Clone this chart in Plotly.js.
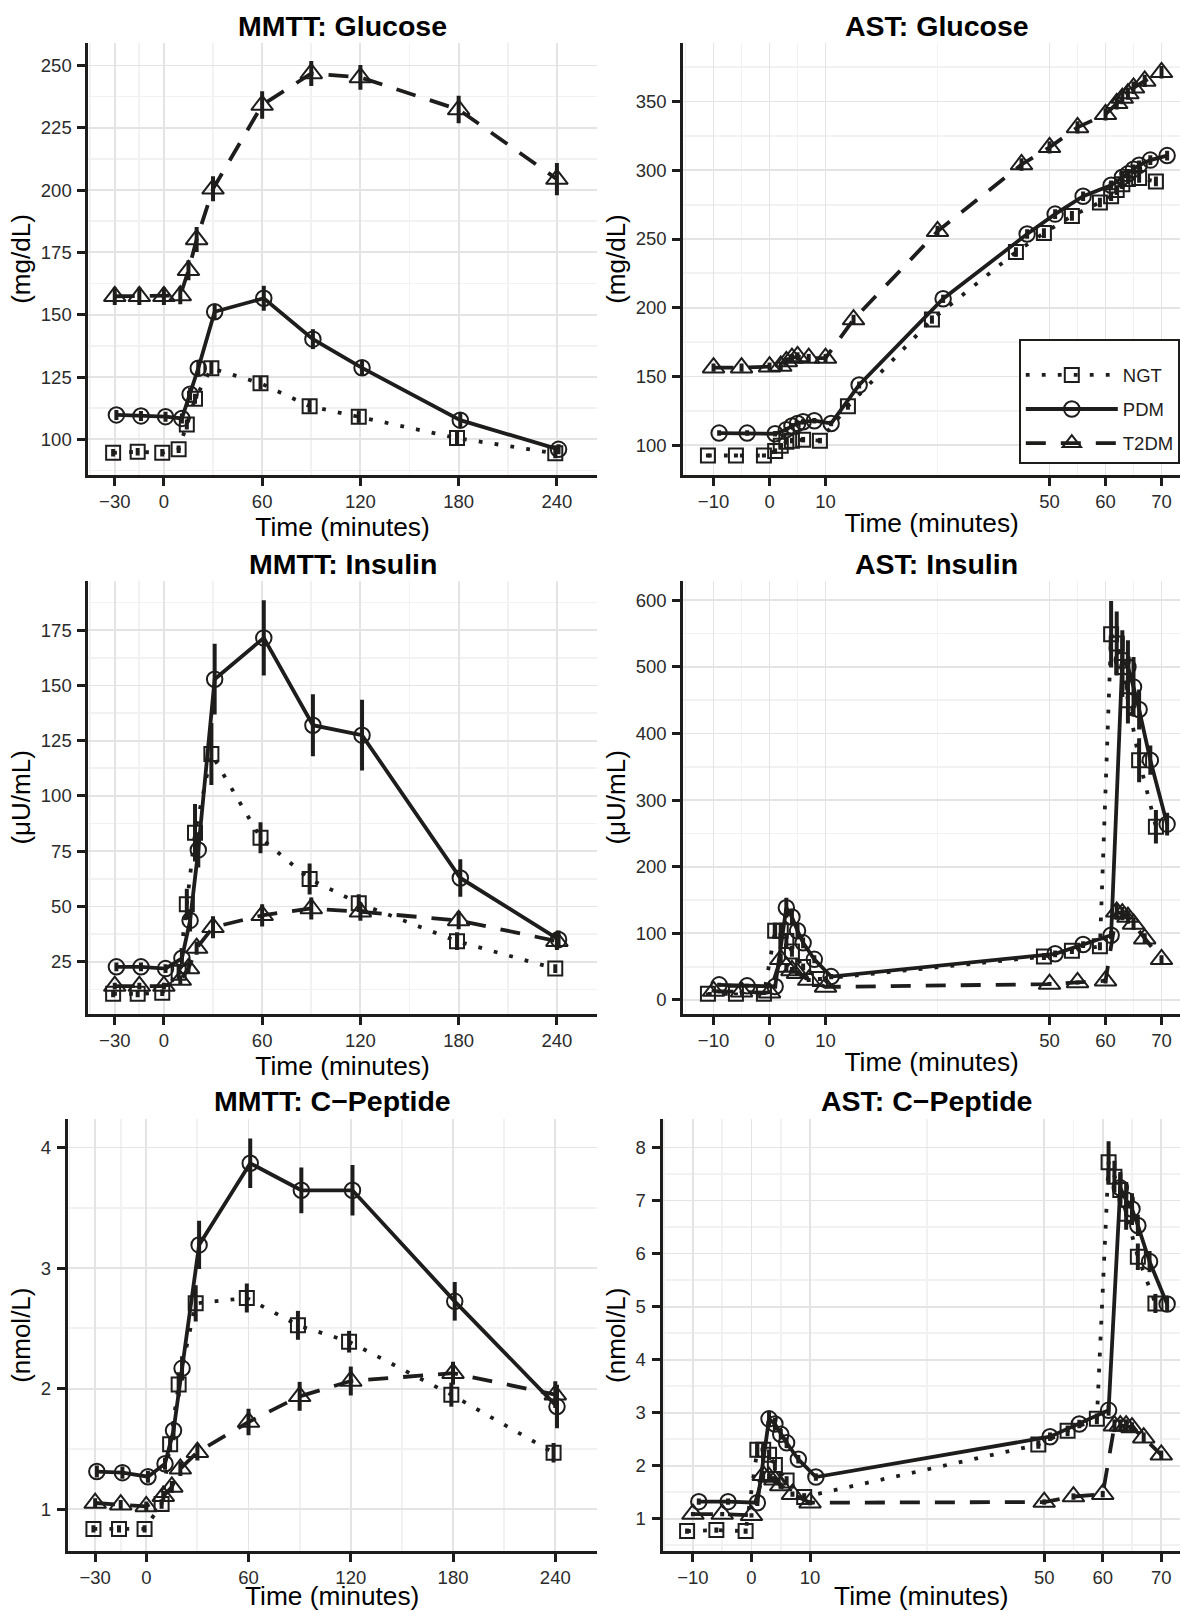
<!DOCTYPE html>
<html>
<head>
<meta charset="utf-8">
<script src="https://cdn.plot.ly/plotly-3.0.1.min.js"></script>
<style>
  html, body { margin: 0; padding: 0; background: #fff; }
  #chart { width: 1180px; height: 1611px; }
</style>
</head>
<body>
<div id="chart"></div>
<script>
// ---------------- data ----------------
const groups = ['NGT', 'PDM', 'T2DM'];

const mmttTime = [-30, -15, 0, 10, 15, 20, 30, 60, 90, 120, 180, 240];
const astGlucoseTime = [-10, -5, 0, 2, 3, 4, 5, 7, 10, 15, 30, 45, 50, 55, 60, 62, 63, 64, 65, 67, 70];
const astTime = [-10, -5, 0, 2, 3, 4, 5, 7, 10, 50, 55, 60, 62, 63, 64, 65, 67, 70];

// MMTT: Glucose (mg/dL)
const mmttGlucoseNGT  = [94.6, 95.0, 94.6, 96.0, 106.0, 116.3, 128.5, 122.5, 113.3, 109.1, 100.5, 94.4];
const mmttGlucosePDM  = [109.8, 109.4, 109.1, 108.4, 118.1, 128.5, 151.2, 156.6, 140.2, 128.7, 107.7, 96.0];
const mmttGlucoseT2DM = [157.4, 157.4, 157.4, 157.7, 167.8, 180.2, 200.5, 234.1, 246.8, 245.2, 232.3, 204.4];
const mmttGlucoseNGTErr  = [1.5, 1.5, 1.5, 1.5, 2, 2, 2.5, 2.5, 2.5, 2.5, 2.5, 2];
const mmttGlucosePDMErr  = [2, 2, 2, 2, 2.5, 3, 3, 5, 4, 3, 3, 2];
const mmttGlucoseT2DMErr = [3.5, 3.5, 3.5, 3.5, 4, 5, 5, 5.5, 5, 5, 5.5, 6.5];

// AST: Glucose (mg/dL)
const astGlucoseNGT  = [92.5, 92.5, 92.5, 95.7, 99.5, 102.5, 103.3, 104.0, 103.3, 128.3, 191.4, 240.5, 254.3, 266.8, 276.6, 281.1, 285.6, 289.9, 293.6, 294.4, 291.9];
const astGlucosePDM  = [108.8, 108.8, 108.3, 111.3, 114.0, 115.8, 117.0, 117.8, 115.8, 143.8, 206.5, 253.6, 268.1, 281.1, 289.1, 294.9, 297.4, 300.7, 303.7, 307.4, 310.7];
const astGlucoseT2DM = [156.4, 156.4, 157.1, 157.6, 160.9, 163.4, 164.6, 163.4, 163.4, 191.4, 255.6, 304.2, 316.7, 331.2, 340.7, 348.7, 352.5, 355.8, 360.0, 365.0, 371.3];
const astGlucoseNGTErr  = [1.5, 1.5, 1.5, 2, 2, 2, 2, 2, 2, 2.5, 3, 3.5, 3.5, 3.5, 3.5, 3.5, 3.5, 3.5, 3.5, 3.5, 3.5];
const astGlucosePDMErr  = [2, 2, 2, 2, 2, 2, 2, 2, 2, 2.5, 3, 3.5, 3.5, 3.5, 3.5, 3.5, 3.5, 3.5, 3.5, 3.5, 3.5];
const astGlucoseT2DMErr = [3, 3, 3, 3, 3, 3, 3, 3, 3, 3.5, 4, 4.5, 4.5, 4.5, 4.5, 4.5, 4.5, 4.5, 4.5, 4.5, 4.5];

// MMTT: Insulin (uU/mL)
const mmttInsulinNGT  = [10.5, 10.5, 11.0, 20.0, 51.0, 83.4, 119.0, 81.1, 62.4, 51.5, 34.3, 21.9];
const mmttInsulinPDM  = [22.7, 22.7, 21.9, 26.6, 43.7, 75.6, 152.8, 171.5, 132.0, 127.5, 62.9, 35.1];
const mmttInsulinT2DM = [14.0, 14.0, 14.0, 16.7, 22.0, 31.2, 40.6, 46.0, 49.1, 47.6, 43.7, 34.3];
const mmttInsulinNGTErr  = [1.5, 1.5, 1.5, 3, 7, 13, 14, 7, 7, 4, 4, 2];
const mmttInsulinPDMErr  = [2, 2, 2, 3, 5, 8, 16, 17, 14, 16, 8.5, 4];
const mmttInsulinT2DMErr = [1.5, 1.5, 1.5, 2, 2.5, 3, 5, 5, 5, 4, 4, 4];

// AST: Insulin (uU/mL)
const astInsulinNGT  = [9.3, 9.3, 9.3, 103.9, 103.9, 88.4, 72.9, 49.6, 31.5, 65.1, 73.9, 80.6, 549, 535, 500, 450, 360, 260];
const astInsulinPDM  = [22.7, 21.2, 20.2, 138.5, 124.5, 103.9, 85.8, 61.0, 35.1, 69.3, 83.2, 97.2, 510, 500, 470, 436, 360, 264];
const astInsulinT2DM = [13.4, 12.4, 10.9, 61.0, 49.6, 44.4, 40.3, 30.0, 19.6, 23.8, 26.4, 28.9, 132.3, 129.7, 124.5, 114.2, 92.0, 61.0];
const astInsulinNGTErr  = [2, 2, 2, 12, 12, 10, 8, 5, 3, 5, 5, 6, 50, 48, 45, 35, 33, 25];
const astInsulinPDMErr  = [3, 3, 3, 15, 12, 10, 8, 6, 4, 5, 5, 6, 45, 40, 45, 30, 22, 17];
const astInsulinT2DMErr = [2, 2, 2, 8, 6, 5, 4, 3, 2, 3, 3, 4, 12, 10, 10, 9, 8, 6];

// MMTT: C-Peptide (nmol/L)
const mmttCpepNGT  = [0.836, 0.836, 0.836, 1.043, 1.539, 2.035, 2.707, 2.752, 2.525, 2.389, 1.95, 1.468];
const mmttCpepPDM  = [1.312, 1.303, 1.269, 1.377, 1.652, 2.168, 3.192, 3.869, 3.645, 3.645, 2.724, 1.851];
const mmttCpepT2DM = [1.051, 1.037, 1.023, 1.108, 1.184, 1.335, 1.473, 1.723, 1.936, 2.063, 2.128, 1.95];
const mmttCpepNGTErr  = [0.03, 0.03, 0.03, 0.04, 0.06, 0.1, 0.15, 0.12, 0.12, 0.09, 0.1, 0.08];
const mmttCpepPDMErr  = [0.05, 0.05, 0.05, 0.05, 0.08, 0.1, 0.2, 0.205, 0.19, 0.21, 0.16, 0.18];
const mmttCpepT2DMErr = [0.04, 0.04, 0.04, 0.04, 0.05, 0.06, 0.07, 0.11, 0.12, 0.12, 0.095, 0.11];

// AST: C-Peptide (nmol/L)
const astCpepNGT  = [0.768, 0.787, 0.768, 2.303, 2.303, 2.206, 2.013, 1.723, 1.413, 2.40, 2.658, 2.884, 7.72, 7.45, 7.2, 6.75, 5.94, 5.06];
const astCpepPDM  = [1.323, 1.323, 1.303, 2.884, 2.787, 2.594, 2.432, 2.123, 1.787, 2.548, 2.787, 3.045, 7.24, 7.01, 6.84, 6.53, 5.85, 5.05];
const astCpepT2DM = [1.09, 1.09, 1.065, 1.82, 1.787, 1.735, 1.626, 1.465, 1.303, 1.316, 1.419, 1.465, 2.755, 2.755, 2.755, 2.72, 2.529, 2.206];
const astCpepNGTErr  = [0.05, 0.05, 0.05, 0.12, 0.12, 0.1, 0.1, 0.08, 0.07, 0.08, 0.1, 0.1, 0.4, 0.3, 0.3, 0.3, 0.25, 0.18];
const astCpepPDMErr  = [0.06, 0.06, 0.06, 0.15, 0.12, 0.1, 0.1, 0.08, 0.07, 0.08, 0.08, 0.1, 0.3, 0.3, 0.3, 0.2, 0.2, 0.15];
const astCpepT2DMErr = [0.04, 0.04, 0.04, 0.08, 0.07, 0.07, 0.06, 0.05, 0.05, 0.05, 0.06, 0.06, 0.12, 0.12, 0.12, 0.1, 0.1, 0.08];

// tick labels
const mmttTickVals = [-30, 0, 60, 120, 180, 240];
const mmttTickText = ['\u221230', '0', '60', '120', '180', '240'];
const mmttMinorVals = [-45, -15, 30, 90, 150, 210];
const astTickVals = [-10, 0, 10, 50, 60, 70];
const astTickText = ['\u221210', '0', '10', '50', '60', '70'];
const astMinorVals = [-15, -5, 5, 30, 55, 65];

const panelTitles = ['MMTT: Glucose', 'AST: Glucose', 'MMTT: Insulin', 'AST: Insulin', 'MMTT: C\u2212Peptide', 'AST: C\u2212Peptide'];
const yTitles = ['(mg/dL)', '(mg/dL)', '(\u03bcU/mL)', '(\u03bcU/mL)', '(nmol/L)', '(nmol/L)'];
const xTitle = 'Time (minutes)';

// ---------------- styling ----------------
const W = 1180, H = 1611;
const INK = '#1f1d1c';
const FONT = 'Liberation Sans, Arial, Helvetica, sans-serif';
const dodge = { NGT: -1, PDM: 1, T2DM: 0 };
const symbols = { NGT: 'square-open', PDM: 'circle-open', T2DM: 'triangle-up-open' };
const msize = { NGT: 14, PDM: 15.5, T2DM: 19 };
const dashes = { NGT: '3.8px,12.2px', PDM: 'solid', T2DM: '20px,15px' };

// panel pixel boxes: [left, right, top, bottom]
const boxes = [
  [88.4, 596.7, 43, 475], [683.3, 1180, 43, 475],
  [88.4, 596.7, 581.3, 1013.5], [683.3, 1180, 581.3, 1013.5],
  [67.7, 596.7, 1119.4, 1551], [662.5, 1180, 1119.4, 1551]
];
const xRanges = [[-46.1, 264.3], [-15.4, 73.3], [-46.1, 264.3], [-15.4, 73.3], [-46.1, 264.3], [-15.2, 73.2]];
const yRanges = [[85.7, 259], [78.3, 392.6], [1.6, 197.1], [-20.3, 628.5], [0.653, 4.233], [0.393, 8.53]];
const xTitleStandoff = [0, 3, 0, 3, 4, 7];
const yTickVals = [
  [100, 125, 150, 175, 200, 225, 250],
  [100, 150, 200, 250, 300, 350],
  [25, 50, 75, 100, 125, 150, 175],
  [0, 100, 200, 300, 400, 500, 600],
  [1, 2, 3, 4],
  [1, 2, 3, 4, 5, 6, 7, 8]
];
const yMinorVals = [
  [87.5, 112.5, 137.5, 162.5, 187.5, 212.5, 237.5],
  [125, 175, 225, 275, 325, 375],
  [12.5, 37.5, 62.5, 87.5, 112.5, 137.5, 162.5, 187.5],
  [50, 150, 250, 350, 450, 550],
  [1.5, 2.5, 3.5],
  [0.5, 1.5, 2.5, 3.5, 4.5, 5.5, 6.5, 7.5]
];

const panels = [
  { t: mmttTime, s: [mmttGlucoseNGT, mmttGlucosePDM, mmttGlucoseT2DM], e: [mmttGlucoseNGTErr, mmttGlucosePDMErr, mmttGlucoseT2DMErr] },
  { t: astGlucoseTime, s: [astGlucoseNGT, astGlucosePDM, astGlucoseT2DM], e: [astGlucoseNGTErr, astGlucosePDMErr, astGlucoseT2DMErr] },
  { t: mmttTime, s: [mmttInsulinNGT, mmttInsulinPDM, mmttInsulinT2DM], e: [mmttInsulinNGTErr, mmttInsulinPDMErr, mmttInsulinT2DMErr] },
  { t: astTime, s: [astInsulinNGT, astInsulinPDM, astInsulinT2DM], e: [astInsulinNGTErr, astInsulinPDMErr, astInsulinT2DMErr] },
  { t: mmttTime, s: [mmttCpepNGT, mmttCpepPDM, mmttCpepT2DM], e: [mmttCpepNGTErr, mmttCpepPDMErr, mmttCpepT2DMErr] },
  { t: astTime, s: [astCpepNGT, astCpepPDM, astCpepT2DM], e: [astCpepNGTErr, astCpepPDMErr, astCpepT2DMErr] }
];

const traces = [];
const layout = {
  width: W, height: H,
  margin: { l: 0, r: 0, t: 0, b: 0 },
  paper_bgcolor: '#fff', plot_bgcolor: '#fff',
  font: { family: FONT, color: INK },
  showlegend: true,
  legend: {
    x: 1019 / W, y: 1 - 339 / H, xanchor: 'left', yanchor: 'top',
    bgcolor: '#fff', bordercolor: INK, borderwidth: 1.8,
    font: { size: 18.5, color: INK, family: FONT },
    title: { text: ' ', font: { size: 12, family: FONT } },
    itemwidth: 92, tracegroupgap: 7, traceorder: 'grouped'
  },
  annotations: []
};

panels.forEach((p, i) => {
  const n = i === 0 ? '' : String(i + 1);
  const xa = 'x' + n, ya = 'y' + n;
  groups.forEach((g, gi) => {
    traces.push({
      type: 'scatter', mode: 'lines+markers',
      name: g, legendgroup: g,
      showlegend: i === 1,
      xaxis: xa, yaxis: ya,
      x: p.t.map(v => v + dodge[g]),
      y: p.s[gi],
      error_y: { type: 'data', array: p.e[gi], visible: true, thickness: 4, width: 0, color: INK },
      line: { color: INK, width: 3.8, dash: dashes[g] },
      marker: { symbol: symbols[g], size: msize[g], color: INK, line: { color: INK, width: 2 } },
      cliponaxis: true
    });
  });
  const b = boxes[i];
  const isMMTT = (i % 2 === 0);
  layout['xaxis' + n] = {
    domain: [b[0] / W, b[1] / W], anchor: ya, range: xRanges[i],
    tickmode: 'array', tickvals: isMMTT ? mmttTickVals : astTickVals,
    ticktext: isMMTT ? mmttTickText : astTickText,
    showline: true, linewidth: 3, linecolor: INK,
    ticks: 'outside', ticklen: 8, tickwidth: 3, tickcolor: INK,
    tickfont: { size: 18.5, color: '#2b2b2b', family: FONT },
    showgrid: true, gridcolor: '#e4e4e4', gridwidth: 1.8, zeroline: false,
    minor: { tickmode: 'array', tickvals: isMMTT ? mmttMinorVals : astMinorVals, showgrid: true, gridcolor: '#f2f2f2', gridwidth: 1.8, ticks: '' },
    title: { text: xTitle, font: { size: 26.3, color: '#000', family: FONT }, standoff: xTitleStandoff[i] },
    fixedrange: true
  };
  layout['yaxis' + n] = {
    domain: [1 - b[3] / H, 1 - b[2] / H], anchor: xa, range: yRanges[i],
    tickmode: 'array', tickvals: yTickVals[i],
    showline: true, linewidth: 3, linecolor: INK,
    ticks: 'outside', ticklen: 8, tickwidth: 3, tickcolor: INK,
    tickfont: { size: 18.5, color: '#2b2b2b', family: FONT },
    ticklabelstandoff: 2,
    showgrid: true, gridcolor: '#e4e4e4', gridwidth: 1.8, zeroline: false,
    minor: { tickmode: 'array', tickvals: yMinorVals[i], showgrid: true, gridcolor: '#f2f2f2', gridwidth: 1.8, ticks: '' },
    title: { text: yTitles[i], font: { size: 26, color: '#000', family: FONT }, standoff: 3 },
    fixedrange: true
  };
  const titleX = isMMTT ? (b[0] + b[1]) / 2 : (b[0] + 1190) / 2;
  const titleY = [25.8, 25.8, 564, 564, 1100.6, 1100.6][i];
  layout.annotations.push({
    text: panelTitles[i], xref: 'paper', yref: 'paper',
    x: titleX / W, y: 1 - titleY / H, xanchor: 'center', yanchor: 'middle',
    showarrow: false, font: { size: 28.5, color: '#000', family: FONT, weight: 700 }
  });
});

Plotly.newPlot('chart', traces, layout, { displayModeBar: false, staticPlot: true });
</script>
</body>
</html>
